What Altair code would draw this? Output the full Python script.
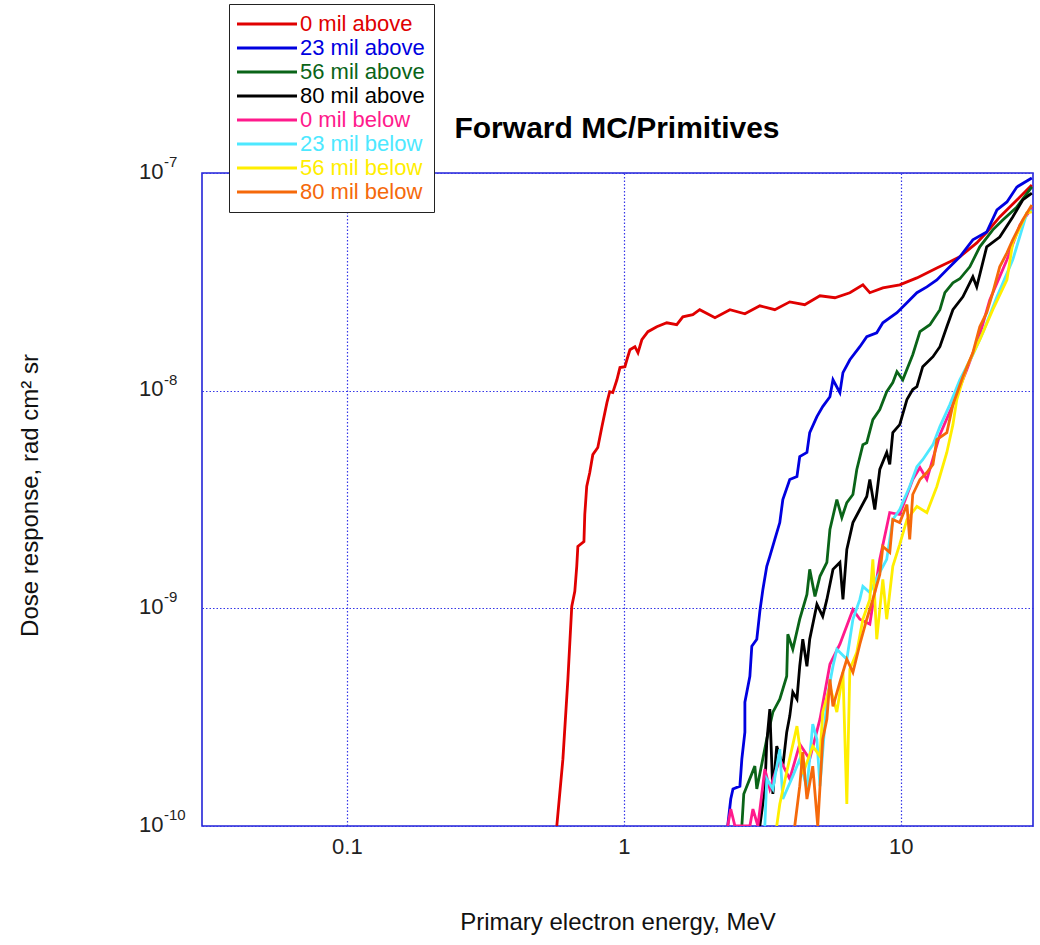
import altair as alt
import pandas as pd

chart_title = "Forward MC/Primitives"
x_title = "Primary electron energy, MeV"
y_title = "Dose response, rad cm² sr"

series_names = ["0 mil above", "23 mil above", "56 mil above", "80 mil above",
                "0 mil below", "23 mil below", "56 mil below", "80 mil below"]
series_colors = ["#e00000", "#0000e0", "#0a6418", "#000000",
                 "#ff1a8c", "#4de8ff", "#ffee00", "#f5690a"]

x_tick_values = [0.1, 1, 10]
x_tick_labels = ["0.1", "1", "10"]
y_tick_values = [1e-10, 1e-9, 1e-8, 1e-7]
y_tick_bases = ["10", "10", "10", "10"]
y_tick_exponents = ["-10", "-9", "-8", "-7"]

# points: (log10 energy [MeV], log10 dose [rad cm^2 sr])
above_0 = [(-0.242, -10.0), (-0.220, -9.693), (-0.202, -9.326), (-0.188, -8.991), (-0.177, -8.922),
           (-0.170, -8.807), (-0.166, -8.716), (-0.144, -8.693), (-0.141, -8.569), (-0.134, -8.440),
           (-0.123, -8.376), (-0.112, -8.294), (-0.094, -8.261), (-0.079, -8.165), (-0.061, -8.055),
           (-0.051, -8.005), (-0.040, -8.009), (-0.025, -7.950), (-0.014, -7.894), (0.004, -7.890),
           (0.011, -7.858), (0.022, -7.812), (0.040, -7.798), (0.051, -7.826), (0.065, -7.766),
           (0.087, -7.729), (0.119, -7.706), (0.155, -7.688), (0.191, -7.697), (0.213, -7.661),
           (0.249, -7.651), (0.274, -7.628), (0.329, -7.665), (0.383, -7.628), (0.437, -7.647),
           (0.491, -7.610), (0.545, -7.628), (0.599, -7.592), (0.653, -7.605), (0.708, -7.564),
           (0.762, -7.573), (0.816, -7.550), (0.863, -7.514), (0.888, -7.550), (0.935, -7.528),
           (0.996, -7.514), (1.058, -7.482), (1.130, -7.436), (1.177, -7.408), (1.213, -7.385),
           (1.274, -7.321), (1.311, -7.271), (1.357, -7.202), (1.419, -7.124), (1.473, -7.055)]

above_23 = [(0.375, -10.0), (0.386, -9.876), (0.394, -9.830), (0.419, -9.817), (0.426, -9.693),
            (0.437, -9.569), (0.437, -9.431), (0.455, -9.312), (0.462, -9.174), (0.480, -9.142),
            (0.491, -9.014), (0.502, -8.913), (0.516, -8.807), (0.527, -8.761), (0.545, -8.683),
            (0.563, -8.606), (0.574, -8.500), (0.599, -8.408), (0.625, -8.394), (0.635, -8.303),
            (0.661, -8.284), (0.671, -8.193), (0.697, -8.119), (0.718, -8.073), (0.744, -8.028),
            (0.755, -7.950), (0.780, -8.009), (0.791, -7.917), (0.816, -7.858), (0.852, -7.798),
            (0.877, -7.752), (0.913, -7.734), (0.935, -7.688), (0.986, -7.642), (1.022, -7.596),
            (1.058, -7.550), (1.094, -7.523), (1.130, -7.491), (1.166, -7.445), (1.213, -7.385),
            (1.260, -7.307), (1.310, -7.271), (1.347, -7.170), (1.383, -7.133), (1.419, -7.064),
            (1.473, -7.023)]

above_56 = [(0.426, -10.0), (0.433, -9.853), (0.473, -9.725), (0.480, -9.830), (0.516, -9.601),
            (0.538, -9.477), (0.563, -9.417), (0.588, -9.312), (0.592, -9.119), (0.610, -9.188),
            (0.635, -9.050), (0.661, -8.936), (0.671, -8.821), (0.690, -8.945), (0.708, -8.853),
            (0.733, -8.789), (0.744, -8.638), (0.769, -8.500), (0.787, -8.583), (0.805, -8.514),
            (0.827, -8.477), (0.841, -8.362), (0.863, -8.248), (0.877, -8.239), (0.899, -8.133),
            (0.924, -8.087), (0.949, -8.005), (0.971, -7.963), (0.986, -7.913), (1.007, -7.950),
            (1.043, -7.835), (1.069, -7.729), (1.105, -7.697), (1.141, -7.628), (1.159, -7.550),
            (1.188, -7.505), (1.213, -7.486), (1.249, -7.431), (1.285, -7.339), (1.332, -7.261),
            (1.368, -7.216), (1.419, -7.156), (1.473, -7.064)]

above_80 = [(0.491, -10.0), (0.509, -9.830), (0.516, -9.615), (0.527, -9.463), (0.538, -9.853),
            (0.552, -9.633), (0.574, -9.725), (0.588, -9.569), (0.599, -9.495), (0.610, -9.385),
            (0.625, -9.417), (0.635, -9.266), (0.646, -9.142), (0.661, -9.266), (0.671, -9.142),
            (0.697, -8.982), (0.718, -9.037), (0.733, -8.959), (0.755, -8.821), (0.780, -8.789),
            (0.791, -8.959), (0.805, -8.729), (0.827, -8.606), (0.852, -8.546), (0.877, -8.486),
            (0.888, -8.408), (0.906, -8.546), (0.924, -8.362), (0.949, -8.284), (0.960, -8.339),
            (0.971, -8.193), (0.996, -8.156), (1.022, -8.041), (1.043, -7.995), (1.058, -7.982),
            (1.079, -7.890), (1.116, -7.844), (1.141, -7.798), (1.166, -7.706), (1.188, -7.628),
            (1.224, -7.569), (1.260, -7.477), (1.274, -7.523), (1.310, -7.339), (1.357, -7.294),
            (1.404, -7.202), (1.440, -7.124), (1.473, -7.092)]

below_0 = [(0.375, -10.0), (0.386, -9.922), (0.401, -10.0), (0.455, -10.0), (0.466, -9.922),
           (0.484, -10.0), (0.509, -9.739), (0.527, -9.830), (0.563, -9.693), (0.599, -9.784),
           (0.635, -9.624), (0.671, -9.693), (0.708, -9.509), (0.744, -9.257), (0.780, -9.165),
           (0.827, -9.005), (0.852, -9.050), (0.888, -9.073), (0.924, -8.775), (0.960, -8.560),
           (0.996, -8.569), (1.043, -8.408), (1.069, -8.353), (1.094, -8.408), (1.141, -8.202),
           (1.188, -8.064), (1.238, -7.904), (1.285, -7.743), (1.321, -7.583), (1.383, -7.399),
           (1.430, -7.239), (1.473, -7.161)]

below_23 = [(0.509, -10.0), (0.516, -9.784), (0.538, -9.830), (0.563, -9.647), (0.574, -9.876),
            (0.610, -9.771), (0.635, -9.693), (0.661, -9.830), (0.682, -9.532), (0.697, -9.601),
            (0.708, -9.817), (0.733, -9.417), (0.755, -9.266), (0.769, -9.188), (0.805, -9.234),
            (0.827, -9.050), (0.852, -8.959), (0.863, -8.899), (0.888, -8.927), (0.924, -8.835),
            (0.949, -8.775), (0.971, -8.592), (0.996, -8.546), (1.032, -8.440), (1.058, -8.349),
            (1.079, -8.317), (1.116, -8.248), (1.141, -8.165), (1.177, -8.064), (1.213, -7.950),
            (1.260, -7.835), (1.296, -7.734), (1.347, -7.569), (1.404, -7.399), (1.455, -7.183),
            (1.473, -7.170)]

below_56 = [(0.552, -10.0), (0.563, -9.899), (0.588, -9.752), (0.625, -9.541), (0.635, -9.638),
            (0.646, -9.761), (0.682, -9.633), (0.708, -9.679), (0.718, -9.477), (0.744, -9.358),
            (0.769, -9.477), (0.791, -9.294), (0.805, -9.899), (0.816, -9.280), (0.841, -9.202),
            (0.863, -9.050), (0.888, -8.959), (0.899, -8.775), (0.913, -9.142), (0.935, -8.867),
            (0.949, -9.050), (0.971, -8.807), (0.996, -8.706), (1.022, -8.592), (1.058, -8.532),
            (1.094, -8.560), (1.130, -8.440), (1.166, -8.284), (1.188, -8.156), (1.202, -8.041),
            (1.238, -7.890), (1.285, -7.766), (1.332, -7.628), (1.383, -7.491), (1.404, -7.321),
            (1.455, -7.183), (1.473, -7.179)]

below_80 = [(0.617, -10.0), (0.635, -9.817), (0.646, -9.661), (0.661, -9.876), (0.682, -9.725),
            (0.700, -10.0), (0.718, -9.601), (0.733, -9.509), (0.744, -9.326), (0.755, -9.450),
            (0.780, -9.339), (0.805, -9.234), (0.827, -9.294), (0.852, -9.165), (0.877, -9.050),
            (0.899, -8.959), (0.924, -8.844), (0.935, -8.716), (0.960, -8.743), (0.971, -8.592),
            (0.996, -8.606), (1.022, -8.523), (1.032, -8.683), (1.043, -8.477), (1.069, -8.408),
            (1.094, -8.376), (1.116, -8.339), (1.130, -8.225), (1.166, -8.193), (1.188, -8.064),
            (1.224, -7.936), (1.260, -7.826), (1.285, -7.706), (1.310, -7.642), (1.332, -7.550),
            (1.357, -7.431), (1.383, -7.367), (1.404, -7.307), (1.440, -7.216), (1.473, -7.147)]

all_series = [above_0, above_23, above_56, above_80, below_0, below_23, below_56, below_80]

FONT = "Liberation Sans"


def label_expr(values, labels):
    # map explicit tick values to their printed labels
    expr = "'" + labels[-1] + "'"
    for v, lab in reversed(list(zip(values[:-1], labels[:-1]))):
        expr = f"datum.value < {v * 1.5} ? '{lab}' : " + expr
    return expr


x_enc = alt.X(
    "energy:Q",
    scale=alt.Scale(type="log", domain=[0.03, 30], nice=False),
    axis=alt.Axis(values=x_tick_values, labelExpr=label_expr(x_tick_values, x_tick_labels),
                  title=x_title, titleY=96, titleBaseline="middle", labelPadding=10),
)
y_enc = alt.Y(
    "dose:Q",
    scale=alt.Scale(type="log", domain=[1e-10, 1e-7], nice=False),
    axis=alt.Axis(values=y_tick_values, labelExpr=label_expr(y_tick_values, y_tick_bases),
                  title=y_title, titleX=-172, titleY=322, titleAlign="center",
                  titleBaseline="middle", labelPadding=39, labelOffset=-2),
)
color_enc = alt.Color(
    "series:N",
    scale=alt.Scale(domain=series_names, range=series_colors),
    legend=alt.Legend(
        title=None, orient="none", legendX=27, legendY=-169, padding=9,
        fillColor="white", strokeColor="#222222",
        symbolType="M-4,0H26", symbolSize=16, symbolStrokeWidth=2.8, symbolOffset=-4,
        labelOffset=44, labelFontSize=22, labelFont=FONT, labelLimit=300, rowPadding=2,
        labelColor={"expr": "scale('color', datum.value)"},
    ),
)

layers = []
for name, pts in zip(series_names, all_series):
    df = pd.DataFrame({
        "series": name,
        "energy": [10 ** p[0] for p in pts],
        "dose": [10 ** p[1] for p in pts],
        "idx": list(range(len(pts))),
    })
    layers.append(
        alt.Chart(df).mark_line(strokeWidth=2.8, clip=True).encode(
            x=x_enc, y=y_enc, color=color_enc, order="idx:Q"
        )
    )

# exponents of the y tick labels (10^-n), placed next to the "10" axis labels
exp_layer = alt.Chart(pd.DataFrame({"dose": y_tick_values, "exp": y_tick_exponents})).mark_text(
    font=FONT, fontSize=15, align="left", baseline="middle", dy=-11, color="#222222"
).encode(y=y_enc, x=alt.value(-38), text="exp:N")

title_layer = alt.Chart(pd.DataFrame({"t": [chart_title]})).mark_text(
    font=FONT, fontSize=30, fontWeight="bold", align="center", baseline="middle", color="black"
).encode(x=alt.value(415), y=alt.value(-44), text="t:N")

chart = alt.layer(*layers, exp_layer, title_layer).properties(
    width=831, height=653,
    padding={"left": 202, "top": 173, "right": 7, "bottom": 119},
    autosize=alt.AutoSizeParams(type="none"),
).configure_view(
    stroke="#2323d8", strokeWidth=1.6
).configure_axis(
    domain=False, ticks=False, grid=True, gridColor="#3535e8", gridDash=[1.5, 2], gridWidth=1.2,
    labelFont=FONT, labelFontSize=22, labelColor="#222222",
    titleFont=FONT, titleFontSize=24, titleFontWeight="normal", titleColor="#111111",
)

chart.save("out.html", embed_options={"renderer": "svg", "actions": False})
